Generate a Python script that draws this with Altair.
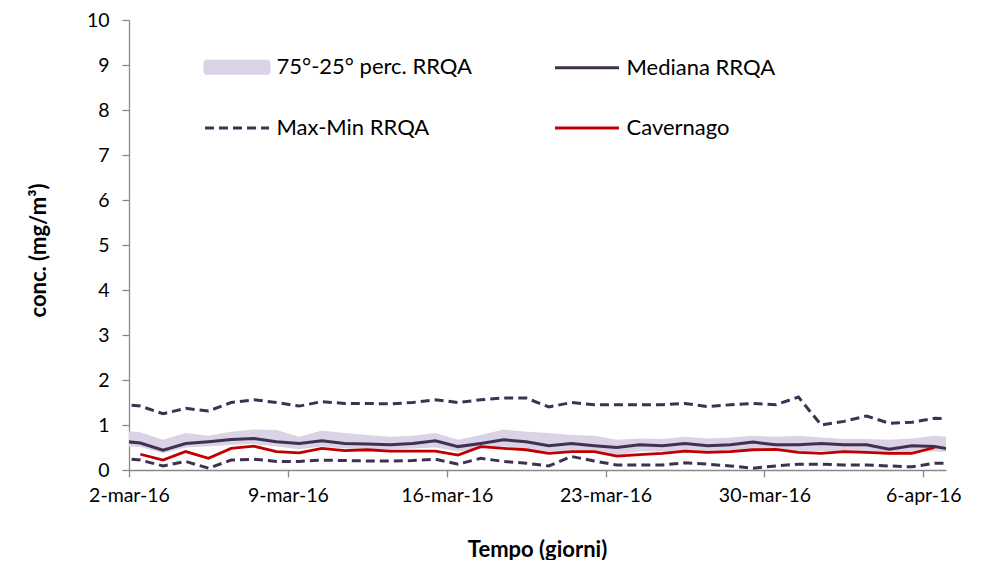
import altair as alt
import pandas as pd

# ---------------- data ----------------
# daily samples; first (1-mar) and last (7-apr) only partly visible (clipped)
FIRST_DAY = "2016-03-01T12:00:00"

max_vals = [1.47, 1.42, 1.25, 1.37, 1.31, 1.50, 1.56, 1.50, 1.42, 1.52, 1.48, 1.48, 1.47,
            1.50, 1.56, 1.50, 1.56, 1.60, 1.60, 1.40, 1.50, 1.45, 1.45, 1.45, 1.45, 1.48,
            1.41, 1.45, 1.48, 1.45, 1.62, 1.00, 1.08, 1.20, 1.04, 1.06, 1.15, 1.14]
min_vals = [0.27, 0.22, 0.09, 0.19, 0.04, 0.22, 0.24, 0.19, 0.19, 0.22, 0.21, 0.20, 0.20,
            0.21, 0.24, 0.13, 0.26, 0.19, 0.15, 0.09, 0.30, 0.20, 0.11, 0.11, 0.11, 0.16,
            0.13, 0.09, 0.04, 0.09, 0.13, 0.13, 0.11, 0.11, 0.09, 0.07, 0.15, 0.15]
med_vals = [0.65, 0.60, 0.44, 0.59, 0.63, 0.68, 0.70, 0.63, 0.59, 0.65, 0.59, 0.58, 0.56,
            0.59, 0.65, 0.52, 0.59, 0.67, 0.63, 0.54, 0.59, 0.54, 0.50, 0.56, 0.54, 0.59,
            0.54, 0.56, 0.62, 0.56, 0.56, 0.59, 0.56, 0.56, 0.46, 0.54, 0.52, 0.44]
p75_vals = [0.88, 0.84, 0.67, 0.82, 0.76, 0.85, 0.90, 0.89, 0.74, 0.88, 0.82, 0.78, 0.74,
            0.76, 0.82, 0.67, 0.78, 0.90, 0.85, 0.82, 0.78, 0.76, 0.67, 0.70, 0.69, 0.74,
            0.70, 0.72, 0.76, 0.74, 0.76, 0.72, 0.69, 0.69, 0.67, 0.70, 0.76, 0.72]
p25_vals = [0.53, 0.51, 0.37, 0.50, 0.52, 0.56, 0.58, 0.52, 0.46, 0.52, 0.48, 0.46, 0.46,
            0.48, 0.50, 0.41, 0.48, 0.52, 0.48, 0.41, 0.44, 0.41, 0.33, 0.41, 0.41, 0.44,
            0.41, 0.42, 0.46, 0.43, 0.41, 0.42, 0.41, 0.41, 0.33, 0.40, 0.41, 0.39]
# Cavernago: 2-mar .. 6-apr
cav_vals = [0.35, 0.22, 0.41, 0.26, 0.48, 0.53, 0.41, 0.38, 0.48, 0.43, 0.45, 0.42, 0.42,
            0.42, 0.33, 0.52, 0.48, 0.45, 0.37, 0.41, 0.41, 0.31, 0.34, 0.37, 0.42, 0.39,
            0.41, 0.45, 0.46, 0.39, 0.37, 0.41, 0.39, 0.37, 0.37, 0.50]

tick_days = [(3, 2), (3, 9), (3, 16), (3, 23), (3, 30), (4, 6)]
y_ticks = list(range(0, 11))

BAND = "75°-25° perc. RRQA"
MED = "Mediana RRQA"
MAXMIN = "Max-Min RRQA"
CAV = "Cavernago"
# legend fills column by column: (band, max-min) | (mediana, cavernago)
series_names = [BAND, MAXMIN, MED, CAV]

BAND_FILL = "#d9d3e5"
DARK = "#403152"
RED = "#c00000"
series_colors = [BAND_FILL, DARK, DARK, RED]

# ---------------- tables ----------------
start = pd.Timestamp(FIRST_DAY)
dates_full = [(start + pd.Timedelta(days=i)).strftime("%Y-%m-%dT%H:%M:%S")
              for i in range(len(max_vals))]
dates_cav = dates_full[1:1 + len(cav_vals)]

df_band = pd.DataFrame({"date": dates_full, "value": p25_vals, "value2": p75_vals,
                        "series": BAND})
df_med = pd.DataFrame({"date": dates_full, "value": med_vals, "series": MED})
df_mm = pd.concat([
    pd.DataFrame({"date": dates_full, "value": max_vals, "which": "max", "series": MAXMIN}),
    pd.DataFrame({"date": dates_full, "value": min_vals, "which": "min", "series": MAXMIN}),
])
df_cav = pd.DataFrame({"date": dates_cav, "value": cav_vals, "series": CAV})

# ---------------- encodings ----------------
FONT = "Lato"
AX_COL = "#898989"

x_enc = alt.X(
    "date:T",
    scale=alt.Scale(domain=[alt.DateTime(year=2016, month=3, date=2),
                            alt.DateTime(year=2016, month=4, date=7)], nice=False),
    axis=alt.Axis(
        values=[alt.DateTime(year=2016, month=m, date=d) for m, d in tick_days],
        labelExpr="lower(timeFormat(datum.value, '%-d-%b-%y'))",
        title="Tempo (giorni)", titleFont=FONT, titleFontSize=22, titleFontWeight="bold",
        titleColor="#000", titleX=408, titleY=86, titleBaseline="alphabetic",
        titleAlign="center",
        labelFont=FONT, labelFontSize=19.5, labelColor="#000", labelPadding=9,
        labelFlush=False, labelOverlap=False,
        grid=False, domainColor=AX_COL, domainWidth=1.3, tickColor=AX_COL,
        tickWidth=1.3, tickSize=7,
    ),
)
y_enc = alt.Y(
    "value:Q",
    scale=alt.Scale(domain=[0, 10], nice=False),
    axis=alt.Axis(
        values=y_ticks, format="d",
        title="conc.  (mg/m³)", titleFont=FONT, titleFontSize=22, titleFontWeight="bold",
        titleColor="#000", titleX=-91, titleY=230, titleBaseline="middle",
        titleAlign="center", titleAngle=270,
        labelFont=FONT, labelFontSize=19.5, labelColor="#000", labelPadding=13,
        labelFlush=False,
        grid=False, domainColor=AX_COL, domainWidth=1.3, tickColor=AX_COL,
        tickWidth=1.3, tickSize=7,
    ),
)

is_band = f"datum.value === '{BAND}'"
is_mm = f"datum.value === '{MAXMIN}'"
is_cav = f"datum.value === '{CAV}'"

legend = alt.Legend(
    title=None, orient="none", legendX=76, legendY=35.5, columns=2,
    columnPadding=77, rowPadding=37, padding=0,
    labelFont=FONT, labelFontSize=22, labelColor="#000", labelOffset=28, labelLimit=500,
    symbolSize=400, symbolStrokeWidth=3, symbolOffset=20.5, symbolOpacity=1,
    symbolType={"expr": f"{is_band} ? 'M-3.2,-0.6H3.2V0.6H-3.2Z' : 'M-3.2,0H3.2'"},
    symbolDash={"expr": f"{is_mm} ? [9, 5] : [1, 0]"},
    symbolFillColor={"expr": f"{is_band} ? '{BAND_FILL}' : 'transparent'"},
    symbolStrokeColor={"expr": f"{is_band} ? '{BAND_FILL}' : ({is_cav} ? '{RED}' : '{DARK}')"},
)

color_enc = alt.Color("series:N",
                      scale=alt.Scale(domain=series_names, range=series_colors),
                      legend=legend)

band = alt.Chart(df_band).mark_area(clip=True, opacity=1).encode(
    x=x_enc, y=y_enc, y2="value2:Q", color=color_enc)
maxmin = alt.Chart(df_mm).mark_line(clip=True, strokeWidth=3, strokeDash=[9, 5]).encode(
    x=x_enc, y=y_enc, color=color_enc, detail="which:N")
median = alt.Chart(df_med).mark_line(clip=True, strokeWidth=3).encode(
    x=x_enc, y=y_enc, color=color_enc)
cav = alt.Chart(df_cav).mark_line(clip=True, strokeWidth=2.8).encode(
    x=x_enc, y=y_enc, color=color_enc)

chart = alt.layer(band, maxmin, median, cav).properties(
    width=817, height=450,
    autosize=alt.AutoSizeParams(type="none"),
    padding={"left": 121, "top": 12, "right": 30, "bottom": 90},
    background="white",
).configure_view(stroke=None)

chart.save("out.html", embed_options={"renderer": "svg", "actions": False})
